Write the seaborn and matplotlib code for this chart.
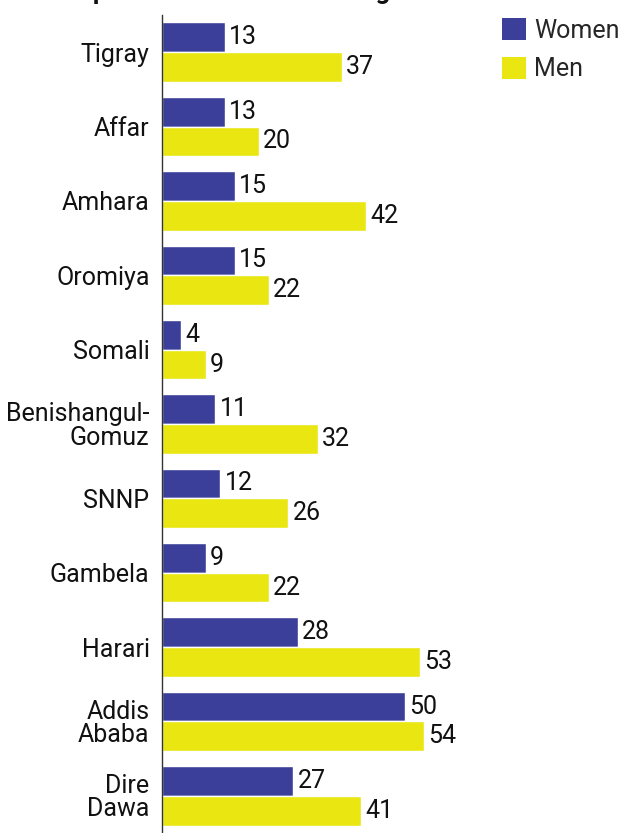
import matplotlib
matplotlib.use("Agg")
import matplotlib.pyplot as plt
import seaborn as sns
import pandas as pd
from matplotlib.patches import Patch

# Regions and percentages by sex
regions = ["Tigray", "Affar", "Amhara", "Oromiya", "Somali", "Benishangul-\nGomuz",
           "SNNP", "Gambela", "Harari", "Addis\nAbaba", "Dire\nDawa"]
women = [13, 13, 15, 15, 4, 11, 12, 9, 28, 50, 27]
men = [37, 20, 42, 22, 9, 32, 26, 22, 53, 54, 41]
sexes = ["Women", "Men"]
colors = ["#3C3F99", "#E9E612"]
title = "Comprehensive HIV Knowledge"

df = pd.DataFrame({
    "Region": regions * 2,
    "Sex": ["Women"] * len(regions) + ["Men"] * len(regions),
    "Value": women + men,
})

sns.set_theme(style="white")
plt.rcParams["font.family"] = ["Roboto", "DejaVu Sans"]

W, H = 622, 833
FS = 18
fig = plt.figure(figsize=(W / 100, H / 100), dpi=100)
ax = fig.add_axes([162 / W, 0.0, 1 - 162 / W, 1 - 15 / H])

sns.barplot(data=df, y="Region", x="Value", hue="Sex", order=regions,
            hue_order=sexes, palette=colors, orient="h", ax=ax,
            saturation=1, width=0.8, legend=False)

ax.set_xlim(0, (W - 162) / 4.86)
ax.set_xlabel("")
ax.set_ylabel("")
ax.set_xticks([])
for side in ["top", "right", "bottom"]:
    ax.spines[side].set_visible(False)
ax.spines["left"].set_color("#333333")
ax.spines["left"].set_linewidth(1.0)

ax.tick_params(axis="y", length=0, pad=9, labelsize=FS, labelcolor="#111111")
for lbl in ax.get_yticklabels():
    lbl.set_linespacing(0.95)

for cont in ax.containers:
    ax.bar_label(cont, padding=3, fontsize=FS, color="#111111")

# Legend in the upper right corner
handles = [Patch(facecolor=c, edgecolor="none") for c in colors]
fig.legend(handles, sexes, loc="upper right",
           bbox_to_anchor=(1.0 + 9 / W, 1.0 - 7 / H),
           frameon=False, fontsize=FS, handlelength=0.95, handleheight=0.95,
           handletextpad=0.35, labelspacing=0.58, borderaxespad=0.25,
           borderpad=0.2)

# Chart title sits mostly above the top edge
fig.text(0.063, 1 + 1.5 / H, title, fontsize=18.5, fontweight="bold",
         va="baseline", ha="left", color="#111111")

fig.savefig("out.png", dpi=100)
